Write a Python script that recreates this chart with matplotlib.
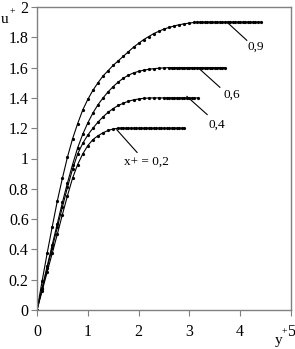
import matplotlib
matplotlib.use("Agg")
import matplotlib.pyplot as plt

plt.rcParams['font.family'] = ['Liberation Serif', 'DejaVu Serif']

# data: y+ positions and u+ values for each x+ curve
y02 = [0.0, 0.1, 0.2, 0.3, 0.4, 0.5, 0.6, 0.7, 0.8, 0.9, 1.0, 1.1, 1.2, 1.3, 1.4, 1.5,
       1.6, 1.65, 1.7, 1.75, 1.8, 1.85, 1.9, 1.95, 2.0, 2.05, 2.1, 2.15, 2.2, 2.25, 2.3,
       2.35, 2.4, 2.45, 2.5, 2.55, 2.6, 2.65, 2.7, 2.75, 2.8, 2.85, 2.9]
u02 = [0.0, 0.125, 0.25, 0.375, 0.50, 0.63, 0.755, 0.87, 0.96, 1.03, 1.085, 1.125, 1.15, 1.17, 1.185, 1.195,
       1.2, 1.2, 1.2, 1.2, 1.2, 1.2, 1.2, 1.2, 1.2, 1.2, 1.2, 1.2, 1.2, 1.2, 1.2,
       1.2, 1.2, 1.2, 1.2, 1.2, 1.2, 1.2, 1.2, 1.2, 1.2, 1.2, 1.2]

y04 = [0.0, 0.1, 0.2, 0.3, 0.4, 0.5, 0.6, 0.7, 0.8, 0.9, 1.0, 1.1, 1.2, 1.3, 1.4, 1.5,
       1.6, 1.7, 1.8, 1.9, 2.0, 2.1, 2.2, 2.3, 2.4, 2.5, 2.55, 2.6, 2.65, 2.7, 2.75,
       2.8, 2.85, 2.9, 2.95, 3.0, 3.05, 3.1, 3.17]
u04 = [0.0, 0.137, 0.275, 0.41, 0.545, 0.68, 0.81, 0.93, 1.03, 1.10, 1.155, 1.20, 1.24, 1.275, 1.305, 1.33,
       1.35, 1.365, 1.378, 1.387, 1.393, 1.397, 1.399, 1.4, 1.4, 1.4, 1.4, 1.4, 1.4, 1.4, 1.4,
       1.4, 1.4, 1.4, 1.4, 1.4, 1.4, 1.4, 1.4]

y06 = [0.0, 0.1, 0.2, 0.3, 0.4, 0.5, 0.6, 0.7, 0.8, 0.9, 1.0, 1.1, 1.2, 1.3, 1.4, 1.5,
       1.6, 1.7, 1.8, 1.9, 2.0, 2.1, 2.2, 2.3, 2.4, 2.5, 2.6, 2.65, 2.7, 2.75, 2.8,
       2.85, 2.9, 2.95, 3.0, 3.05, 3.1, 3.15, 3.2, 3.25, 3.3, 3.35, 3.4, 3.45, 3.5,
       3.55, 3.6, 3.65, 3.7]
u06 = [0.0, 0.145, 0.29, 0.43, 0.57, 0.71, 0.84, 0.96, 1.07, 1.16, 1.235, 1.30, 1.355, 1.40, 1.44, 1.475,
       1.505, 1.53, 1.55, 1.565, 1.575, 1.583, 1.589, 1.593, 1.596, 1.598, 1.6, 1.6, 1.6, 1.6, 1.6,
       1.6, 1.6, 1.6, 1.6, 1.6, 1.6, 1.6, 1.6, 1.6, 1.6, 1.6, 1.6, 1.6, 1.6,
       1.6, 1.6, 1.6, 1.6]

y09 = [0.0, 0.1, 0.2, 0.3, 0.4, 0.5, 0.6, 0.7, 0.8, 0.9, 1.0, 1.1, 1.2, 1.3, 1.4, 1.5,
       1.6, 1.7, 1.8, 1.9, 2.0, 2.1, 2.2, 2.3, 2.4, 2.5, 2.6, 2.7, 2.8, 2.9, 3.0, 3.1,
       3.15, 3.2, 3.25, 3.3, 3.35, 3.4, 3.45, 3.5, 3.55, 3.6, 3.65, 3.7, 3.75, 3.8,
       3.85, 3.9, 3.95, 4.0, 4.05, 4.1, 4.15, 4.2, 4.25, 4.3, 4.35, 4.4]
u09 = [0.0, 0.19, 0.375, 0.55, 0.72, 0.87, 1.01, 1.13, 1.23, 1.32, 1.39, 1.45, 1.50, 1.545, 1.58, 1.615,
       1.645, 1.675, 1.705, 1.735, 1.76, 1.785, 1.805, 1.825, 1.84, 1.855, 1.865, 1.875, 1.883, 1.889, 1.894, 1.898,
       1.9, 1.9, 1.9, 1.9, 1.9, 1.9, 1.9, 1.9, 1.9, 1.9, 1.9, 1.9, 1.9, 1.9,
       1.9, 1.9, 1.9, 1.9, 1.9, 1.9, 1.9, 1.9, 1.9, 1.9, 1.9, 1.9]

labels = ["x+ = 0,2", "0,4", "0,6", "0,9"]
# leader lines (from curve to label) and label anchors, in data coords
leaders = [((1.57, 1.19), (1.97, 1.04), (1.71, 0.98)),
           ((2.95, 1.41), (3.35, 1.29), (3.38, 1.22)),
           ((3.17, 1.60), (3.60, 1.47), (3.68, 1.42)),
           ((3.74, 1.90), (4.13, 1.78), (4.15, 1.74))]

xticks = [0, 1, 2, 3, 4, 5]
yticks = [0, 0.2, 0.4, 0.6, 0.8, 1, 1.2, 1.4, 1.6, 1.8, 2]
yticklabels = ["0", "0.2", "0.4", "0.6", "0.8", "1", "1.2", "1.4", "1.6", "1.8", "2"]

fig = plt.figure(figsize=(2.95, 3.49), dpi=100)
ax = fig.add_axes([37/295, 39/349, 254/295, 303/349])

for yy, uu in [(y02, u02), (y04, u04), (y06, u06), (y09, u09)]:
    ax.plot(yy, uu, color='black', lw=0.8, marker='o', ms=1.3, mec='black', mfc='black')

for (p0, p1, lp), lab in zip(leaders, labels):
    ax.plot([p0[0], p1[0]], [p0[1], p1[1]], color='black', lw=0.8)
    ax.text(lp[0], lp[1], lab, ha='left', va='center', fontsize=9.5)

ax.set_xlim(0, 5)
ax.set_ylim(0, 2)
ax.set_xticks(xticks)
ax.set_yticks(yticks)
ax.set_yticklabels(yticklabels)
ax.tick_params(direction='out', length=4, width=0.8, color='#808080', labelsize=11.5, pad=2)
ax.tick_params(axis='x', pad=6)
for s in ax.spines.values():
    s.set_color('#808080')
    s.set_linewidth(1.0)

fig.text(1/295, 1 - 23/349, "u", fontsize=11, ha='left', va='baseline')
fig.text(10/295, 1 - 14/349, "+", fontsize=7, ha='left', va='baseline')
fig.text(275/295, 1 - 344/349, "y", fontsize=11, ha='left', va='baseline')
fig.text(282/295, 1 - 334/349, "+", fontsize=7, ha='left', va='baseline')

fig.savefig("out.png", dpi=100)
